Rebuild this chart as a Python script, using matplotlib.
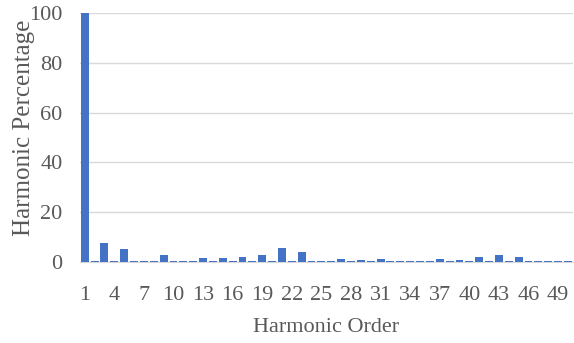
import matplotlib
matplotlib.use("Agg")
import matplotlib.pyplot as plt
import numpy as np

orders = list(range(1, 51))
values = [100, 0.3, 7.6, 0.3, 5.4, 0.3, 0.3, 0.3, 2.8, 0.3,
          0.3, 0.3, 1.5, 0.3, 1.5, 0.3, 2.0, 0.3, 2.8, 0.3,
          5.5, 0.3, 4.0, 0.3, 0.3, 0.3, 1.1, 0.3, 0.8, 0.3,
          1.1, 0.3, 0.3, 0.3, 0.3, 0.3, 1.2, 0.3, 0.9, 0.3,
          2.2, 0.3, 3.0, 0.3, 2.0, 0.3, 0.3, 0.3, 0.3, 0.3]
tick_labels = [str(i) for i in range(1, 51, 3)]

plt.rcParams['font.family'] = ['Liberation Serif', 'DejaVu Serif']
fig = plt.figure(figsize=(5.74, 3.43), dpi=100)
ax = fig.add_axes([0.139, 0.236, 0.859, 0.726])

x = np.arange(len(orders))
ax.bar(x, values, width=0.8, color='#4472C4', zorder=3, clip_on=False)
ax.set_xlim(-0.5, len(orders) - 0.5)
ax.set_ylim(0, 100)
ax.set_yticks([0, 20, 40, 60, 80, 100])
ax.set_xticks(x[::3])
ax.set_xticklabels(tick_labels)
ax.grid(axis='y', color='#d9d9d9', linewidth=1, zorder=0)
for s in ['top', 'right', 'left']:
    ax.spines[s].set_visible(False)
ax.spines['bottom'].set_color('#d9d9d9')
ax.tick_params(axis='both', length=0, labelsize=16, colors='#595959')
ax.tick_params(axis='y', pad=12.5)
ax.tick_params(axis='x', pad=17)
ax.set_xlabel('Harmonic Order', fontsize=16, color='#595959', labelpad=9.5)
ax.set_ylabel('Harmonic Percentage', fontsize=18, color='#595959', labelpad=-4, y=0.54)

fig.savefig('out.png', dpi=100)
